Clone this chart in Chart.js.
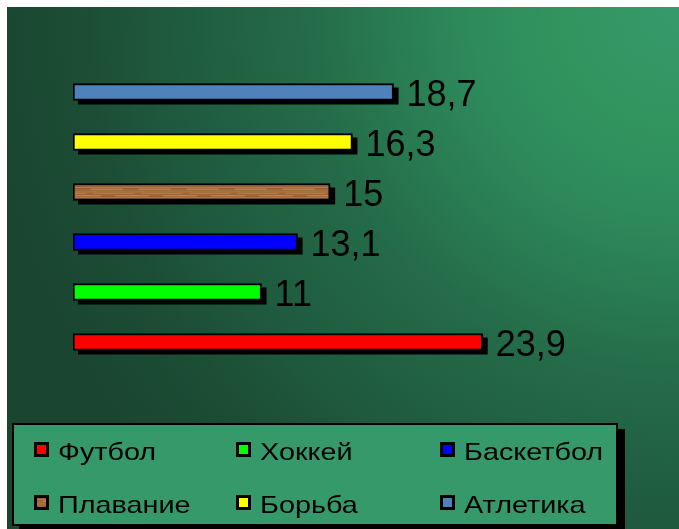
<!DOCTYPE html>
<html>
<head>
<meta charset="utf-8">
<script src="https://cdn.jsdelivr.net/npm/chart.js@4"></script>
<style>
  html, body { margin: 0; padding: 0; background: #fff; }
  #chart { display: block; }
</style>
</head>
<body>
<canvas id="chart" width="679" height="529"></canvas>
<script>
const categories = ['Футбол', 'Хоккей', 'Баскетбол', 'Плавание', 'Борьба', 'Атлетика'];
const values = [23.9, 11, 13.1, 15, 16.3, 18.7];

// brown "wood" texture for Плавание
function woodPattern(ctx) {
  const tile = document.createElement('canvas');
  tile.width = 48; tile.height = 12;
  const t = tile.getContext('2d');
  const rows = ['#a8703f', '#b27a48', '#9d6538', '#b9824f', '#a46c3d', '#ad7545',
                '#98613a', '#b47c4a', '#a66e40', '#bb8551', '#9f6839', '#ab7343'];
  rows.forEach((c, i) => { t.fillStyle = c; t.fillRect(0, i, 48, 1); });
  t.fillStyle = 'rgba(120,70,30,0.35)';
  t.fillRect(5, 3, 14, 2); t.fillRect(27, 8, 16, 2); t.fillRect(38, 1, 8, 1);
  return ctx.createPattern(tile, 'repeat');
}

const canvas = document.getElementById('chart');
const ctx = canvas.getContext('2d');
const colors = ['#ff0000', '#00ff00', '#0000ff', woodPattern(ctx), '#ffff00', '#4f81bd'];

const decor = {
  id: 'decor',
  beforeDraw(chart) {
    const c = chart.ctx;
    c.save();
    c.fillStyle = '#fff';
    c.fillRect(0, 0, chart.width, chart.height);
    const g = c.createRadialGradient(679, 7, 0, 679, 7, 690);
    g.addColorStop(0, '#36996b');
    g.addColorStop(0.17, '#32945f');
    g.addColorStop(0.3, '#2e8b5c');
    g.addColorStop(0.55, '#246a48');
    g.addColorStop(0.74, '#1f5a3e');
    g.addColorStop(0.87, '#1c4d35');
    g.addColorStop(1, '#1a4631');
    c.fillStyle = g;
    c.fillRect(7, 7, chart.width - 7, chart.height - 7);
    c.restore();
  },
  beforeDatasetsDraw(chart) {
    // flat black drop shadow under each bar
    const c = chart.ctx;
    c.save();
    c.fillStyle = '#000';
    chart.getDatasetMeta(0).data.forEach(bar => {
      const p = bar.getProps(['x', 'y', 'base', 'height'], true);
      c.fillRect(p.base + 5, p.y - p.height / 2 + 4, p.x - p.base, p.height);
    });
    c.restore();
  },
  afterDatasetsDraw(chart) {
    const c = chart.ctx;
    c.save();
    // value labels
    c.fillStyle = '#000';
    c.font = '36px "Liberation Sans", Arial, sans-serif';
    c.textBaseline = 'alphabetic';
    chart.getDatasetMeta(0).data.forEach((bar, i) => {
      c.fillText(String(values[i]).replace('.', ','), bar.x + 13, bar.y + 13.5);
    });

    // legend box
    c.fillStyle = '#000';
    c.fillRect(19, 429, 606, 103);
    c.fillStyle = '#35996a';
    c.fillRect(12, 423, 606, 103);
    c.lineWidth = 2;
    c.strokeStyle = '#000';
    c.strokeRect(13, 424, 604, 101);

    const colX = [34, 236, 440];
    const rowY = [442, 495];
    c.font = '24px "Liberation Sans", Arial, sans-serif';
    categories.forEach((name, i) => {
      const x = colX[i % 3], y = rowY[Math.floor(i / 3)];
      c.fillStyle = '#000';
      c.fillRect(x, y, 15, 15);
      c.fillStyle = colors[i];
      c.fillRect(x + 3, y + 3, 9, 9);
      c.save();
      c.translate(x + 24, y + 18);
      c.scale(1.2, 1);
      c.fillStyle = '#000';
      c.fillText(name, 0, 0);
      c.restore();
    });
    c.restore();
  }
};

new Chart(ctx, {
  type: 'bar',
  data: {
    labels: categories,
    datasets: [{
      data: values,
      backgroundColor: colors,
      borderColor: '#000',
      borderWidth: 2,
      borderSkipped: false,
      barThickness: 17
    }]
  },
  options: {
    indexAxis: 'y',
    responsive: false,
    animation: false,
    events: [],
    layout: { padding: { left: 73, right: 6, top: 67, bottom: 162 } },
    scales: {
      x: { display: false, min: 0, max: 35 },
      y: { display: false, reverse: true }
    },
    plugins: {
      legend: { display: false },
      tooltip: { enabled: false }
    }
  },
  plugins: [decor]
});
</script>
</body>
</html>
